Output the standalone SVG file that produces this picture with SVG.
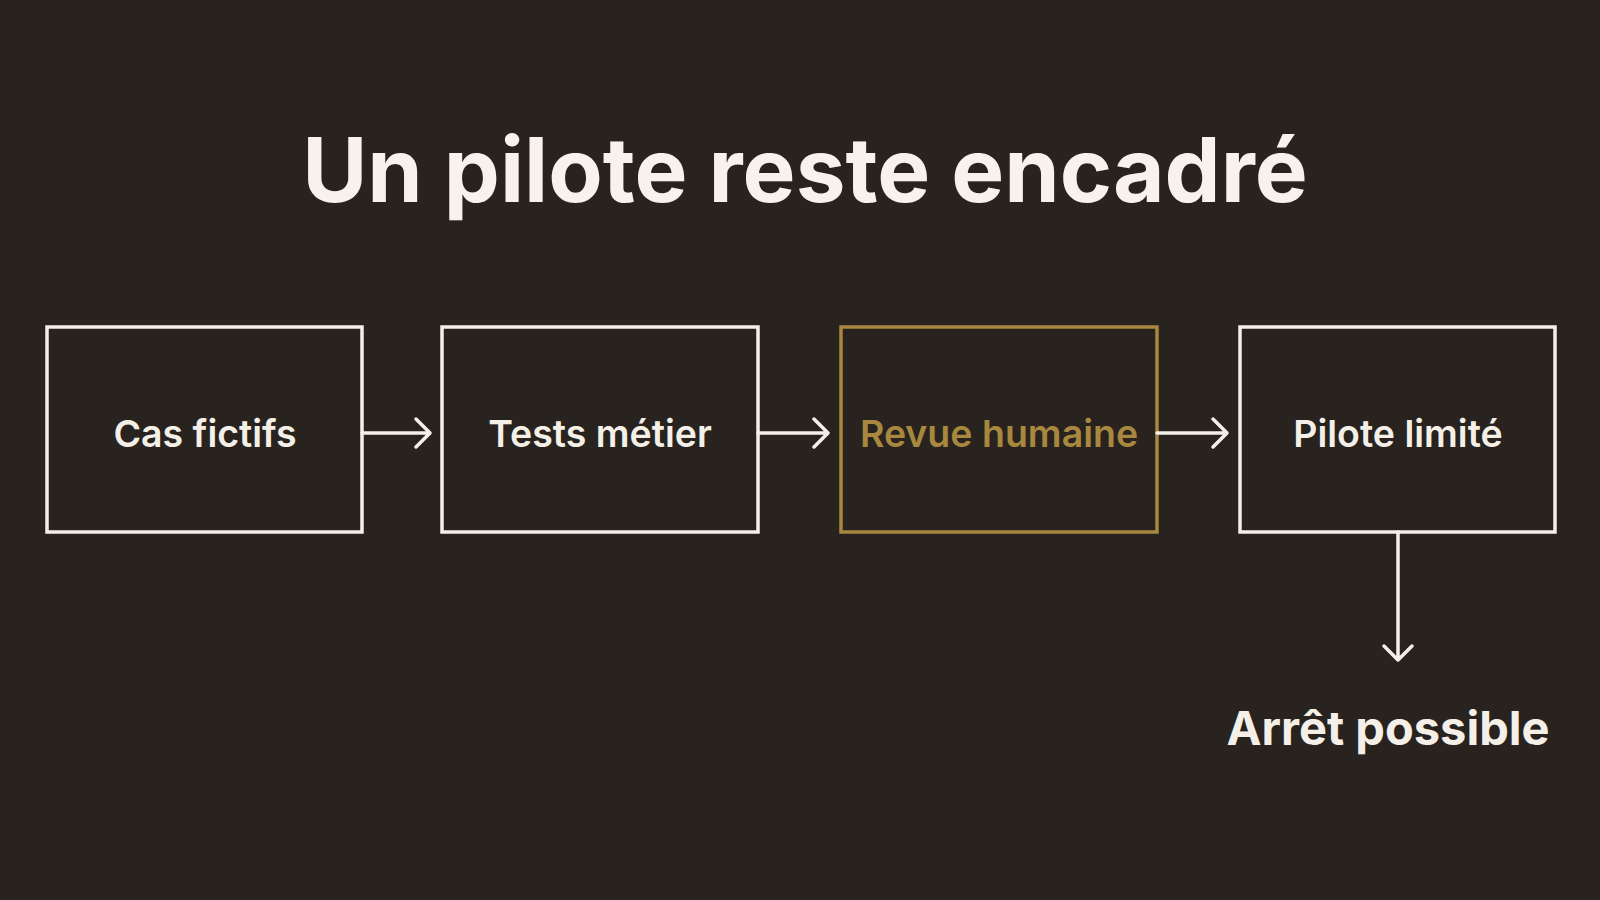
<svg xmlns="http://www.w3.org/2000/svg" width="1600" height="900" viewBox="0 0 1600 900">
<style>
.box{fill:none;stroke:#f4f0e8;stroke-width:3.5}
.gold{stroke:#a8873f}
.lbl{font-family:Inter,"Open Sans","Liberation Sans",sans-serif;font-weight:600;font-size:37.5px;fill:#f4f0e8;text-anchor:middle}
.lbl.g{fill:#a8873f}
.conn{fill:none;stroke:#f4f0e8;stroke-width:3.5;stroke-linecap:round;stroke-linejoin:round}
.title{font-family:Inter,"Open Sans","Liberation Sans",sans-serif;font-weight:700;font-size:89px;fill:#f7f3ec;text-anchor:middle}
</style>
<rect width="1600" height="900" fill="#28231f"/>
<text class="title" x="805" y="202">Un pilote reste encadré</text>
<g id="n1"><rect class="box" x="47" y="327" width="315" height="205"/><text class="lbl" x="205" y="447">Cas fictifs</text></g>
<g id="n2"><rect class="box" x="442" y="327" width="316" height="205"/><text class="lbl" x="600" y="447">Tests métier</text></g>
<g id="n3"><rect class="box gold" x="841" y="327" width="316" height="205"/><text class="lbl g" x="999" y="447">Revue humaine</text></g>
<g id="n4"><rect class="box" x="1240" y="327" width="315" height="205"/><text class="lbl" x="1398" y="447">Pilote limité</text></g>
<g id="n5"><text class="lbl" style="font-size:47px;font-weight:700" x="1388" y="745">Arrêt possible</text></g>
<g id="connectors">
<path class="conn" d="M362 433H430M416 419L430 433L416 447"/>
<path class="conn" d="M758 433H828M814 419L828 433L814 447"/>
<path class="conn" d="M1157 433H1227M1213 419L1227 433L1213 447"/>
<path class="conn" d="M1398 532V660M1384 646L1398 660L1412 646"/>
</g>
</svg>
